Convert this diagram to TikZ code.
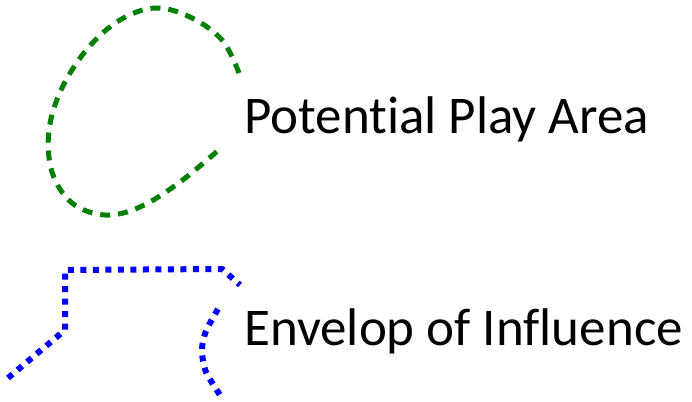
\documentclass[tikz,border=0pt]{standalone}
\usepackage{fontspec}
\setmainfont[Ligatures=NoCommon]{Carlito}
\usepackage{tikz}
\definecolor{areagreen}{RGB}{0,128,0}
\definecolor{envblue}{RGB}{0,0,255}

\begin{document}
\begin{tikzpicture}[x=1pt,y=-1pt,
    playline/.style={areagreen, line width=5pt, dash pattern=on 10pt off 8pt},
    envline/.style={envblue, line width=6pt, dash pattern=on 6pt off 6.5pt},
    legendtext/.style={anchor=base west, inner sep=0pt, font=\fontsize{53}{60}\selectfont}]
                \useasboundingbox (0,0) rectangle (692,401);
                % play area
                \draw[playline] plot[smooth, tension=0.6] coordinates {(239,73) (222,40) (190,17) (155,8) (120,20) (88,48) (62,88) (49,130) (52,172) (72,203) (105,215) (140,207) (180,182) (222,147)};
                % envelope
                \draw[envline] (8,378) -- (65,330) -- (65,270) -- (222,269) -- (240,285);
                \draw[envline] plot[smooth] coordinates {(218,309) (206,331) (202,350) (206,372) (222,398)};
                % labels
                \node[legendtext] (play) at (244,133) {Potential Play Area};
                \node[legendtext] (env) at (244,345) {Envelop of Influence};
            \end{tikzpicture}
\end{document}
